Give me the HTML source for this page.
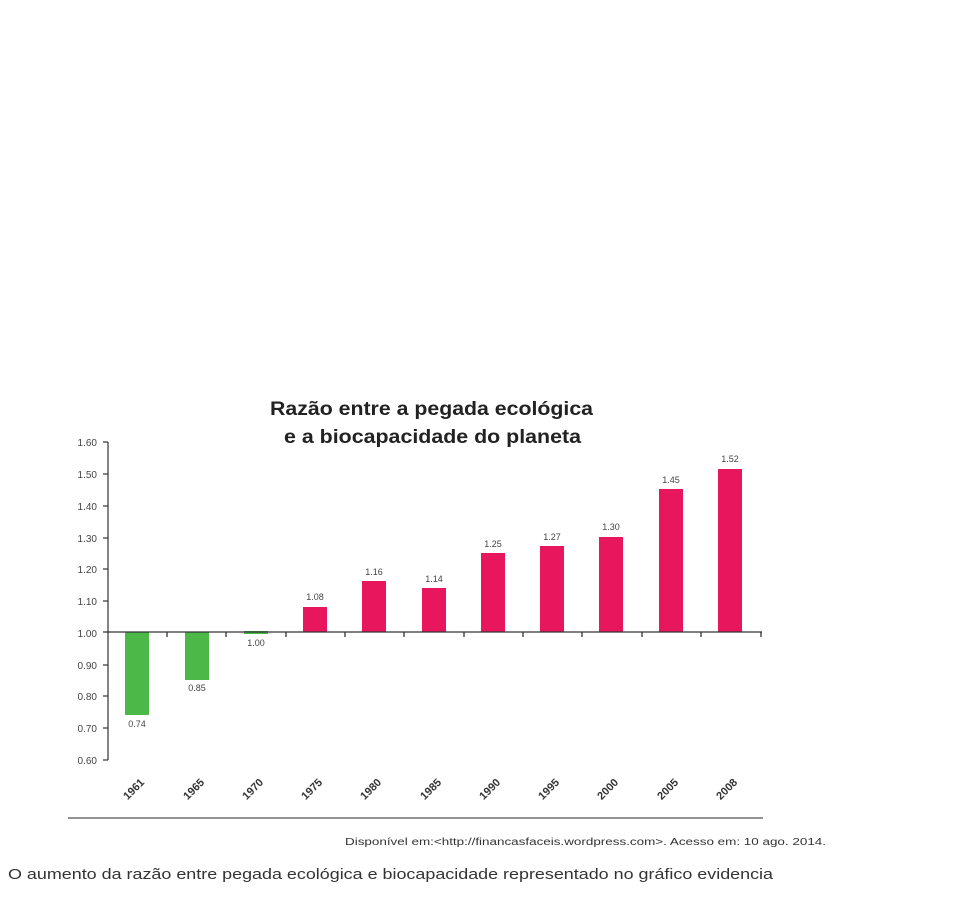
<!DOCTYPE html>
<html><head><meta charset="utf-8"><style>
html,body{margin:0;padding:0;background:#fff;width:967px;height:907px;overflow:hidden}
svg{display:block}
text{font-family:"Liberation Sans",sans-serif}
</style></head><body>
<svg width="967" height="907" viewBox="0 0 967 907">
<text x="270" y="415" textLength="323" lengthAdjust="spacingAndGlyphs" font-size="19" font-weight="bold" fill="#222">Razão entre a pegada ecológica</text>
<text x="284" y="443" textLength="297" lengthAdjust="spacingAndGlyphs" font-size="19" font-weight="bold" fill="#222">e a biocapacidade do planeta</text>
<g font-size="10" fill="#444" text-anchor="end">
<text x="97" y="446">1.60</text><text x="97" y="478">1.50</text><text x="97" y="510">1.40</text>
<text x="97" y="542">1.30</text><text x="97" y="573">1.20</text><text x="97" y="605">1.10</text>
<text x="97" y="637">1.00</text><text x="97" y="669">0.90</text><text x="97" y="700">0.80</text>
<text x="97" y="732">0.70</text><text x="97" y="764">0.60</text>
</g>
<g stroke="#333" stroke-width="1.2">
<line x1="108" y1="442" x2="108" y2="760"/>
<line x1="103" y1="442" x2="108" y2="442"/><line x1="103" y1="474" x2="108" y2="474"/>
<line x1="103" y1="506" x2="108" y2="506"/><line x1="103" y1="538" x2="108" y2="538"/>
<line x1="103" y1="569" x2="108" y2="569"/><line x1="103" y1="601" x2="108" y2="601"/>
<line x1="103" y1="665" x2="108" y2="665"/><line x1="103" y1="696" x2="108" y2="696"/>
<line x1="103" y1="728" x2="108" y2="728"/><line x1="103" y1="760" x2="108" y2="760"/>
</g>
<g fill="#4cb848">
<rect x="125" y="632" width="24" height="83"/>
<rect x="185" y="632" width="24" height="48"/>
<rect x="244" y="631" width="24" height="3"/>
</g>
<g fill="#e8175d">
<rect x="303" y="607" width="24" height="25"/>
<rect x="362" y="581" width="24" height="51"/>
<rect x="422" y="588" width="24" height="44"/>
<rect x="481" y="553" width="24" height="79"/>
<rect x="540" y="546" width="24" height="86"/>
<rect x="599" y="537" width="24" height="95"/>
<rect x="659" y="489" width="24" height="143"/>
<rect x="718" y="469" width="24" height="163"/>
</g>
<g stroke="#333" stroke-width="1.3">
<line x1="103" y1="632" x2="762" y2="632"/>
<line x1="167" y1="632" x2="167" y2="637"/><line x1="226" y1="632" x2="226" y2="637"/>
<line x1="286" y1="632" x2="286" y2="637"/><line x1="345" y1="632" x2="345" y2="637"/>
<line x1="404" y1="632" x2="404" y2="637"/><line x1="464" y1="632" x2="464" y2="637"/>
<line x1="523" y1="632" x2="523" y2="637"/><line x1="582" y1="632" x2="582" y2="637"/>
<line x1="642" y1="632" x2="642" y2="637"/><line x1="701" y1="632" x2="701" y2="637"/>
<line x1="761" y1="632" x2="761" y2="637"/>
</g>
<g font-size="9" fill="#444" text-anchor="middle">
<text x="137" y="727">0.74</text><text x="197" y="691">0.85</text><text x="256" y="646">1.00</text>
<text x="315" y="600">1.08</text><text x="374" y="575">1.16</text><text x="434" y="582">1.14</text>
<text x="493" y="547">1.25</text><text x="552" y="540">1.27</text><text x="611" y="530">1.30</text>
<text x="671" y="483">1.45</text><text x="730" y="462">1.52</text>
</g>
<g font-size="11" font-weight="bold" fill="#333" text-anchor="end">
<text transform="translate(145,783) rotate(-45)">1961</text>
<text transform="translate(205,783) rotate(-45)">1965</text>
<text transform="translate(264,783) rotate(-45)">1970</text>
<text transform="translate(323,783) rotate(-45)">1975</text>
<text transform="translate(382,783) rotate(-45)">1980</text>
<text transform="translate(442,783) rotate(-45)">1985</text>
<text transform="translate(501,783) rotate(-45)">1990</text>
<text transform="translate(560,783) rotate(-45)">1995</text>
<text transform="translate(619,783) rotate(-45)">2000</text>
<text transform="translate(679,783) rotate(-45)">2005</text>
<text transform="translate(738,783) rotate(-45)">2008</text>
</g>
<line x1="68" y1="818" x2="763" y2="818" stroke="#555" stroke-width="1.3"/>
<text x="345" y="845" textLength="481" lengthAdjust="spacingAndGlyphs" font-size="10" fill="#333">Disponível em:&lt;http://financasfaceis.wordpress.com&gt;. Acesso em: 10 ago. 2014.</text>
<text x="8" y="879" textLength="765" lengthAdjust="spacingAndGlyphs" font-size="15" fill="#333">O aumento da razão entre pegada ecológica e biocapacidade representado no gráfico evidencia</text>
</svg>
</body></html>
